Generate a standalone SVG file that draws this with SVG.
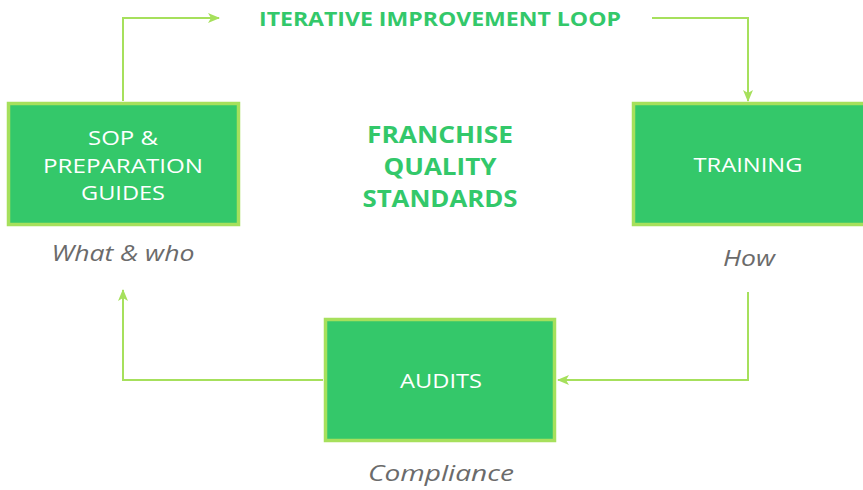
<svg xmlns="http://www.w3.org/2000/svg" width="863" height="490" viewBox="0 0 863 490">
  <style>
    .box { fill: #34c86a; stroke: #a6e05c; stroke-width: 3.5; }
    .node-label { font-family: "Open Sans", "Liberation Sans", sans-serif; font-size: 20px; font-weight: 500; fill: #ffffff; text-anchor: middle; dominant-baseline: central; }
    .title { font-family: "Open Sans", "Liberation Sans", sans-serif; font-weight: 700; fill: #33c86a; text-anchor: middle; dominant-baseline: central; }
    .note { font-family: "Open Sans", "Liberation Sans", sans-serif; font-size: 21px; font-weight: 400; font-style: italic; fill: #6b6b6b; text-anchor: middle; dominant-baseline: central; }
    .link { fill: none; stroke: #a6e05c; stroke-width: 2; }
  </style>
  <defs>
    <marker id="arrow" viewBox="0 0 12 10" refX="11" refY="5" markerWidth="12" markerHeight="10" markerUnits="userSpaceOnUse" orient="auto">
      <path d="M0,0 L12,5 L0,10 L3,5 Z" fill="#a6e05c"/>
    </marker>
  </defs>

  <rect width="863" height="490" fill="#ffffff"/>

  <!-- loop connectors -->
  <g id="connectors">
    <path class="link" d="M123,101 V18 H219" marker-end="url(#arrow)"/>
    <path class="link" d="M652,18 H748 V101" marker-end="url(#arrow)"/>
    <path class="link" d="M748,292 V380 H558" marker-end="url(#arrow)"/>
    <path class="link" d="M323,380 H123 V290" marker-end="url(#arrow)"/>
  </g>

  <text class="title" x="440" y="18" font-size="20" textLength="362" lengthAdjust="spacingAndGlyphs">ITERATIVE IMPROVEMENT LOOP</text>

  <g id="center-title">
    <text class="title" x="440" y="133" font-size="24" textLength="146" lengthAdjust="spacingAndGlyphs">FRANCHISE</text>
    <text class="title" x="440" y="165" font-size="24" textLength="113" lengthAdjust="spacingAndGlyphs">QUALITY</text>
    <text class="title" x="440" y="197" font-size="24" textLength="155" lengthAdjust="spacingAndGlyphs">STANDARDS</text>
  </g>

  <g id="sop">
    <rect class="box" x="8.5" y="103.5" width="230" height="121"/>
    <text class="node-label" x="123" y="137" textLength="70" lengthAdjust="spacingAndGlyphs">SOP &amp;</text>
    <text class="node-label" x="123" y="165" textLength="160" lengthAdjust="spacingAndGlyphs">PREPARATION</text>
    <text class="node-label" x="123" y="192" textLength="84" lengthAdjust="spacingAndGlyphs">GUIDES</text>
    <text class="note" x="123" y="253" textLength="143" lengthAdjust="spacingAndGlyphs">What &amp; who</text>
  </g>

  <g id="training">
    <rect class="box" x="633.5" y="103.5" width="232" height="121"/>
    <text class="node-label" x="748" y="164" textLength="109" lengthAdjust="spacingAndGlyphs">TRAINING</text>
    <text class="note" x="749" y="258" textLength="52" lengthAdjust="spacingAndGlyphs">How</text>
  </g>

  <g id="audits">
    <rect class="box" x="325.5" y="319.5" width="229" height="121"/>
    <text class="node-label" x="441" y="380" textLength="82" lengthAdjust="spacingAndGlyphs">AUDITS</text>
    <text class="note" x="441" y="473" textLength="146" lengthAdjust="spacingAndGlyphs">Compliance</text>
  </g>
</svg>
